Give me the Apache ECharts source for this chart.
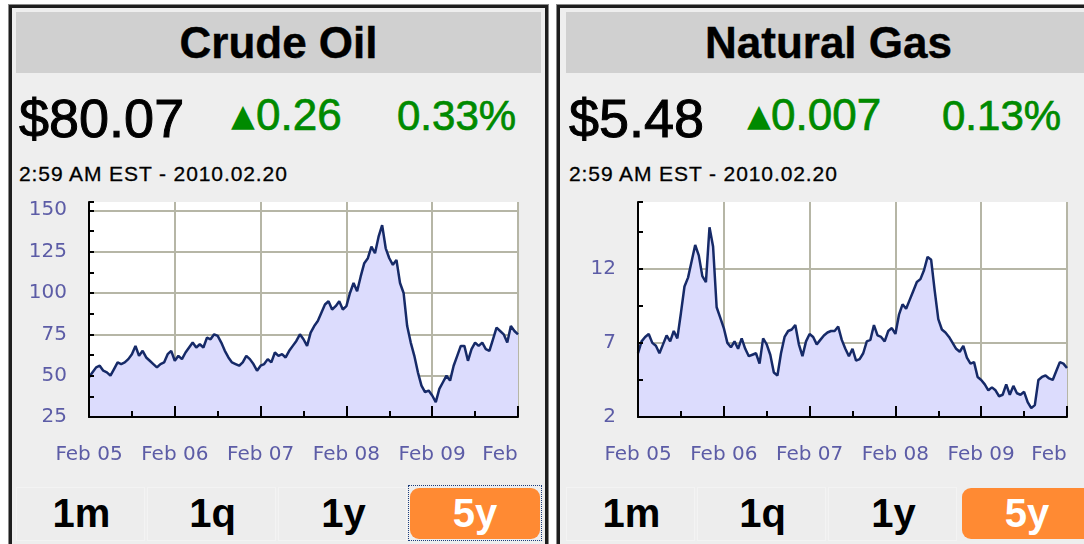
<!DOCTYPE html>
<html>
<head>
<meta charset="utf-8">
<script src="https://cdn.jsdelivr.net/npm/echarts@6/dist/echarts.min.js"></script>
<style>
  html, body { margin: 0; padding: 0; background: #fff; }
  body { width: 1084px; height: 544px; overflow: hidden; position: relative; font-family: "Liberation Sans", Arial, sans-serif; }
  .abs { position: absolute; white-space: nowrap; }
  .panel { position: absolute; top: 5px; width: 539px; height: 600px; box-sizing: border-box; border: 3px solid #1e1e1e; background: #eeeeee; box-shadow: 0 0 0 1px #8a8a8a; }
  .head { position: absolute; top: 12px; width: 525px; height: 61px; background: #d0d0d0; }
  .title { position: absolute; top: 21px; width: 525px; text-align: center; font-size: 44px; line-height: 44px; font-weight: bold; color: #000; -webkit-text-stroke: 0.4px #000; }
  .price { font-size: 54px; line-height: 54px; top: 91px; color: #000; -webkit-text-stroke: 1px #000; }
  .chg { font-size: 44px; line-height: 44px; top: 93px; color: #008a00; -webkit-text-stroke: 0.7px #008a00; }
  .pct { font-size: 42px; line-height: 42px; top: 95px; color: #008a00; -webkit-text-stroke: 0.7px #008a00; }
  .tri { font-family: "DejaVu Sans"; font-size: 31px; line-height: 31px; top: 100px; color: #008a00; }
  .stamp { font-size: 21px; line-height: 21px; top: 163px; letter-spacing: 0.9px; color: #000; -webkit-text-stroke: 0.3px #000; }
  .cell { position: absolute; top: 487px; width: 129px; height: 54px; box-sizing: border-box; border: 1px solid #f3f3f3; background: #ededed; }
  .btn { position: absolute; top: 493px; width: 131px; text-align: center; font-size: 40px; line-height: 40px; font-weight: bold; color: #000; }
  .on { position: absolute; top: 488px; width: 130px; height: 51px; background: #ff8a33; border-radius: 9px; }
  .focus { position: absolute; top: 485px; width: 134px; height: 56px; box-sizing: border-box; border: 1px dotted #1c3c7c; }
  #chart { position: absolute; left: 0; top: 0; width: 1084px; height: 544px; }
</style>
</head>
<body>
<!-- 左侧：原油 -->
<div class="panel" style="left:9px"></div>
<div class="head" style="left:16px"></div>
<div class="title" style="left:16px">Crude Oil</div>
<div class="abs price" style="left:19px">$80.07</div>
<div class="abs tri" style="left:231px">▲</div>
<div class="abs chg" style="left:256px">0.26</div>
<div class="abs pct" style="left:397px">0.33%</div>
<div class="abs stamp" style="left:19px">2:59 AM EST - 2010.02.20</div>
<div class="cell" style="left:16px"></div>
<div class="cell" style="left:147px"></div>
<div class="cell" style="left:278px"></div>
<div class="on" style="left:410px"></div>
<div class="focus" style="left:408px"></div>
<div class="btn" style="left:16px">1m</div>
<div class="btn" style="left:147px">1q</div>
<div class="btn" style="left:278px">1y</div>
<div class="btn" style="left:410px;width:130px;color:#fff">5y</div>

<!-- 右侧：天然气 -->
<div class="panel" style="left:557px"></div>
<div class="head" style="left:566px"></div>
<div class="title" style="left:566px">Natural Gas</div>
<div class="abs price" style="left:569px">$5.48</div>
<div class="abs tri" style="left:747px">▲</div>
<div class="abs chg" style="left:771px">0.007</div>
<div class="abs pct" style="left:942px">0.13%</div>
<div class="abs stamp" style="left:569px">2:59 AM EST - 2010.02.20</div>
<div class="cell" style="left:566px"></div>
<div class="cell" style="left:697px"></div>
<div class="cell" style="left:828px"></div>
<div class="on" style="left:962px"></div>
<div class="btn" style="left:566px">1m</div>
<div class="btn" style="left:697px">1q</div>
<div class="btn" style="left:828px">1y</div>
<div class="btn" style="left:962px;width:130px;color:#fff">5y</div>

<div id="chart"></div>
<script>
// 数据：每半个月一个点，Feb 2005 -> Feb 2010
var oilPrices = [
  49, 52, 55, 56, 53, 52, 50, 54, 58, 57, 58, 60, 63, 68, 62, 65, 61, 59, 57, 55,
  57, 58, 63, 65, 59, 62, 60, 64, 67, 70, 67, 69, 67, 73, 72, 75, 74, 70, 65, 61,
  58, 57, 56, 58, 62, 60, 57, 53, 56, 57, 60, 58, 64, 62, 63, 61, 65, 68, 71, 75,
  72, 68, 76, 80, 83, 88, 93, 95, 90, 92, 95, 90, 92, 100, 106, 101, 110, 118, 121, 128,
  124, 134, 141, 127, 121, 117, 120, 106, 100, 80, 70, 62, 52, 44, 40, 41, 38, 34, 42, 46,
  50, 47, 56, 62, 68, 68, 59, 66, 70, 68, 70, 66, 65, 72, 79, 77, 75, 70, 80, 77,
  75
];
var gasPrices = [
  6.3, 7.1, 7.4, 7.6, 7.0, 6.8, 6.3, 6.9, 7.5, 7.1, 7.8, 7.3, 9.0, 10.8, 11.4, 12.5, 13.6, 12.9, 11.5, 11.1,
  14.8, 13.5, 9.4, 8.7, 8.0, 7.0, 6.7, 7.1, 6.6, 7.3, 6.6, 6.1, 6.2, 6.3, 5.6, 7.3, 6.9, 6.2, 5.0, 4.8,
  6.3, 7.4, 7.8, 7.9, 8.2, 6.9, 6.1, 7.1, 7.6, 7.4, 6.9, 7.2, 7.5, 7.7, 7.8, 7.8, 8.1, 7.2, 6.6, 6.1,
  6.6, 5.8, 5.9, 6.3, 7.1, 7.2, 8.2, 7.5, 7.4, 7.1, 7.8, 8.0, 7.6, 8.9, 9.6, 9.3, 9.9, 10.5, 11.1, 11.3,
  11.9, 12.8, 12.6, 10.5, 8.6, 7.9, 7.7, 7.4, 7.0, 6.6, 6.4, 6.8, 6.0, 5.6, 5.7, 4.7, 4.5, 4.2, 3.8, 4.0,
  3.8, 3.4, 3.5, 4.2, 3.5, 4.1, 3.6, 3.5, 3.7, 3.0, 2.6, 2.8, 4.5, 4.7, 4.8, 4.6, 4.5, 5.1, 5.7, 5.6,
  5.3
];
// x 轴刻度标签（每年二月），最后一个被截断只剩 "Feb"
var yearLabels = ['Feb 05', 'Feb 06', 'Feb 07', 'Feb 08', 'Feb 09', 'Feb'];
var oilTicks = { min: 25, max: 155, interval: 25 };
var gasTicks = { min: 2, max: 16.5, interval: 5 };

var labelColor = '#5c5ca6';
var gridColor = '#b6b6a6';
var lineColor = '#162a68';
var fillColor = '#dcdcfd';

function toPoints(arr) {
  return arr.map(function (v, i) { return [i / 2, v]; });
}

// 底层坐标轴：只画网格线
function xSplit(gi) {
  return {
    type: 'value', gridIndex: gi, min: 0, max: 60, interval: 12,
    axisLine: { show: false }, axisTick: { show: false }, axisLabel: { show: false },
    splitLine: { show: true, lineStyle: { color: gridColor, width: 2 } }
  };
}
function ySplit(gi, t) {
  return {
    type: 'value', gridIndex: gi, min: t.min, max: t.max, interval: t.interval,
    axisLine: { show: false }, axisTick: { show: false }, axisLabel: { show: false },
    splitLine: { show: true, showMaxLine: false, lineStyle: { color: gridColor, width: 2 } }
  };
}
// 上层坐标轴：轴线、刻度、标签（盖在面积图上）
function xTop(gi) {
  return {
    type: 'value', gridIndex: gi, min: 0, max: 60, interval: 12, z: 10, position: 'bottom',
    axisLine: { show: true, onZero: false, lineStyle: { color: '#000', width: 2 } },
    axisTick: { show: true, inside: true, length: 11, lineStyle: { color: '#000', width: 2 } },
    minorTick: { show: true, splitNumber: 2, length: 6, lineStyle: { color: '#000', width: 2 } },
    splitLine: { show: false },
    axisLabel: {
      margin: 28, showMinLabel: true, showMaxLabel: true,
      color: labelColor, fontFamily: 'DejaVu Sans', fontSize: 20,
      formatter: function (v) {
        var i = Math.round(v / 12);
        if (i === yearLabels.length - 1) return '{cut|' + yearLabels[i] + '}';
        return yearLabels[i];
      },
      rich: {
        cut: { color: labelColor, fontFamily: 'DejaVu Sans', fontSize: 20, padding: [0, 36, 0, 0] }
      }
    }
  };
}
function yTop(gi, t) {
  return {
    type: 'value', gridIndex: gi, min: t.min, max: t.max, interval: t.interval, z: 10, position: 'left',
    axisLine: { show: true, onZero: false, lineStyle: { color: '#000', width: 2 } },
    axisTick: { show: true, inside: true, length: 5, lineStyle: { color: '#000', width: 2 } },
    minorTick: { show: true, splitNumber: 2, length: 5, lineStyle: { color: '#000', width: 2 } },
    splitLine: { show: false },
    axisLabel: {
      margin: 22, showMaxLabel: false,
      color: labelColor, fontFamily: 'DejaVu Sans', fontSize: 20
    }
  };
}
function areaSeries(idx, arr) {
  return {
    type: 'line', xAxisIndex: idx, yAxisIndex: idx,
    data: toPoints(arr), showSymbol: false, symbol: 'none',
    lineStyle: { color: lineColor, width: 2.5 },
    areaStyle: { color: fillColor, opacity: 1 },
    animation: false
  };
}

var myChart = echarts.init(document.getElementById('chart'));
var option = {
  backgroundColor: 'transparent',
  animation: false,
  grid: [
    { left: 89, top: 202, width: 429, height: 215, show: true, backgroundColor: '#fff', borderWidth: 0 },
    { left: 638, top: 202, width: 429, height: 215, show: true, backgroundColor: '#fff', borderWidth: 0 }
  ],
  xAxis: [xSplit(0), xSplit(1), xTop(0), xTop(1)],
  yAxis: [ySplit(0, oilTicks), ySplit(1, gasTicks), yTop(0, oilTicks), yTop(1, gasTicks)],
  series: [areaSeries(0, oilPrices), areaSeries(1, gasPrices)]
};
myChart.setOption(option);
</script>
</body>
</html>
